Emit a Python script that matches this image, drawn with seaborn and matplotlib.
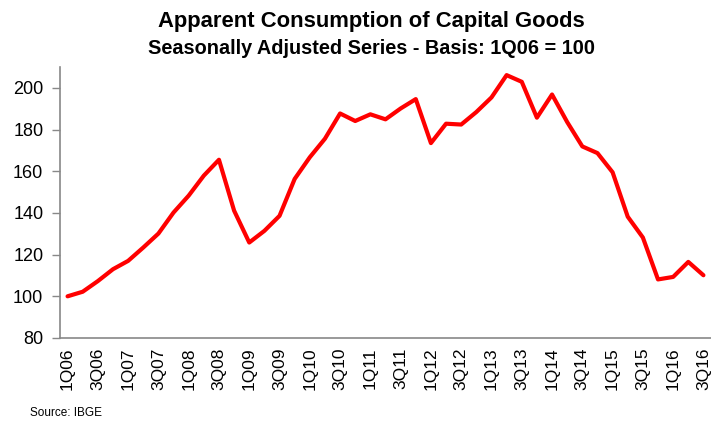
import numpy as np
import pandas as pd
import matplotlib
matplotlib.use("Agg")
import matplotlib.pyplot as plt
import seaborn as sns

quarters = [f"{q}Q{y:02d}" for y in range(6, 17) for q in range(1, 5)][:43]
values = [100.0, 102.2, 107.3, 113.0, 117.0, 123.4, 130.1, 140.2, 148.3, 157.9,
          165.5, 141.1, 125.8, 131.4, 138.6, 156.3, 166.7, 175.6, 187.7, 184.1,
          187.3, 184.9, 190.1, 194.6, 173.5, 182.8, 182.4, 188.4, 195.4, 206.1,
          202.9, 185.7, 196.8, 183.6, 171.9, 168.7, 159.5, 138.2, 128.2, 108.1,
          109.3, 116.5, 110.1]
yticks = [80, 100, 120, 140, 160, 180, 200]

df = pd.DataFrame({"pos": np.arange(len(quarters)), "quarter": quarters, "value": values})

sns.set_style("white")
plt.rcParams["font.family"] = ["Liberation Sans", "DejaVu Sans"]
plt.rcParams["text.color"] = "black"
plt.rcParams["xtick.color"] = "black"
plt.rcParams["ytick.color"] = "black"

fig = plt.figure(figsize=(7.11, 4.23), dpi=100)
ax = fig.add_axes([60 / 711, 1 - 338 / 423, 651 / 711, (338 - 67) / 423])

sns.lineplot(data=df, x="pos", y="value", ax=ax, color="#ff0000", linewidth=3.0)

ax.set_xlim(-0.5, len(quarters) - 0.5)
ax.set_ylim(80, 210)
ax.set_yticks(yticks)
ax.set_yticklabels([str(v) for v in yticks], fontsize=13)
ax.set_xticks(df["pos"][::2])
ax.set_xticklabels(quarters[::2], rotation=90, fontsize=12.5)
ax.set_xticks(np.arange(-0.5, len(quarters), 1), minor=True)
ax.tick_params(axis="x", which="major", length=0, pad=7, labelcolor="black")
ax.tick_params(axis="x", which="minor", length=5, color="#888888", width=1)
ax.tick_params(axis="y", which="major", length=6, color="#888888", width=1, left=True,
               pad=6, labelcolor="black")
ax.set_xlabel("")
ax.set_ylabel("")
for s in ["top", "right"]:
    ax.spines[s].set_visible(False)
for s in ["left", "bottom"]:
    ax.spines[s].set_color("#888888")
    ax.spines[s].set_linewidth(1.2)

fig.text(371 / 711, 1 - 22 / 423, "Apparent Consumption of Capital Goods",
         ha="center", va="center", fontsize=15.8, fontweight="bold", color="black")
fig.text(371 / 711, 1 - 48 / 423, "Seasonally Adjusted Series - Basis: 1Q06 = 100",
         ha="center", va="center", fontsize=14.3, fontweight="bold", color="black")
fig.text(30 / 711, 1 - 413 / 423, "Source: IBGE", ha="left", va="center", fontsize=8.5,
         color="black")

fig.savefig("out.png", dpi=100)
